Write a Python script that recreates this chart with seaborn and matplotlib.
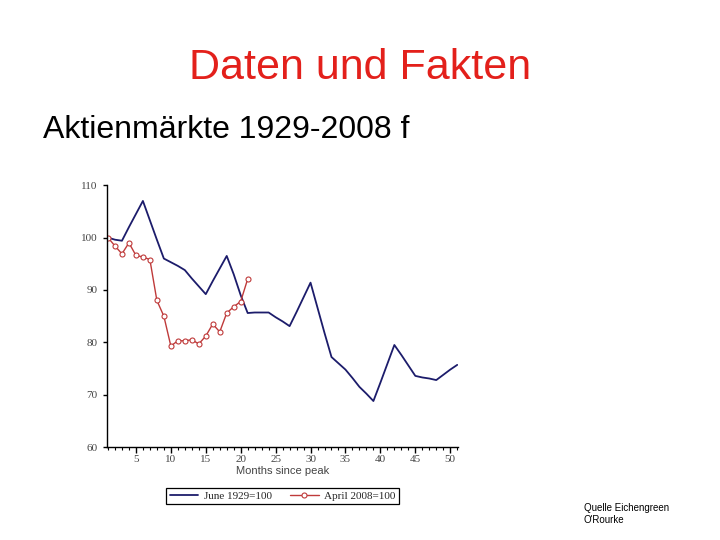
import matplotlib
matplotlib.use("Agg")
import matplotlib.pyplot as plt
import seaborn as sns
import pandas as pd
from matplotlib.ticker import MultipleLocator

sns.set_theme(style="white")
plt.rcParams['font.family'] = ['Liberation Sans', 'DejaVu Sans']

# ---- data ----
months_1929 = list(range(1, 52))
values_1929 = [100, 99.6, 99.4, 102, 104.5, 107, 103.3, 99.6, 96, 95.3,
               94.6, 93.8, 92.2, 90.7, 89.2, 91.7, 94.1, 96.5, 93, 89,
               85.6, 85.7, 85.7, 85.7, 84.8, 84, 83.1, 85.8, 88.6, 91.4,
               86.6, 81.8, 77.2, 76, 74.8, 73.2, 71.5, 70.2, 68.8, 72.3,
               75.9, 79.5, 77.6, 75.6, 73.6, 73.3, 73.1, 72.8, 73.8, 74.8,
               75.7]
months_2008 = list(range(1, 22))
values_2008 = [100, 98.4, 96.9, 99, 96.6, 96.3, 95.8, 88, 85, 79.3,
               80.3, 80.3, 80.5, 79.7, 81.2, 83.5, 82, 85.6, 86.8, 87.8,
               92.1]
label_1929 = "June 1929=100"
label_2008 = "April 2008=100"
x_ticks = [5, 10, 15, 20, 25, 30, 35, 40, 45, 50]
y_ticks = [60, 70, 80, 90, 100, 110]

df1 = pd.DataFrame({"month": months_1929, "value": values_1929})
df2 = pd.DataFrame({"month": months_2008, "value": values_2008})

fig = plt.figure(figsize=(7.2, 5.4), dpi=100)
fig.patch.set_facecolor("white")
ax = fig.add_axes([0.149, 0.172, 0.487, 0.485])

blue = "#1c1c6b"
red = "#bf3a3a"
sns.lineplot(data=df1, x="month", y="value", ax=ax, color=blue, lw=1.3,
             label=label_1929)
sns.lineplot(data=df2, x="month", y="value", ax=ax, color=red, lw=1.0,
             marker="o", markersize=3.6, markerfacecolor="white",
             markeredgecolor=red, markeredgewidth=0.8, label=label_2008)

ax.set_xlim(0.9, 51.1)
ax.set_ylim(60, 110)
ax.set_xticks(x_ticks)
ax.set_yticks(y_ticks)
ax.xaxis.set_minor_locator(MultipleLocator(1))
ax.tick_params(axis="x", which="major", direction="out", length=4, width=1,
               color="black", labelsize=8, labelcolor="#444444", pad=2,
               bottom=True)
ax.tick_params(axis="x", which="minor", direction="out", length=2.5,
               width=0.8, color="black", bottom=True)
ax.tick_params(axis="y", which="major", direction="out", length=3, width=1,
               color="black", labelsize=8, labelcolor="#444444", pad=4,
               left=True)
for lbl in ax.get_xticklabels() + ax.get_yticklabels():
    lbl.set_family(["Liberation Serif", "DejaVu Serif"])
for s in ["top", "right"]:
    ax.spines[s].set_visible(False)
for s in ["left", "bottom"]:
    ax.spines[s].set_color("black")
    ax.spines[s].set_linewidth(1.0)
ax.set_xlabel("Months since peak", fontsize=8, color="#444444", labelpad=1)
ax.set_ylabel("")
ax.grid(False)

ax.legend(loc="upper center", bbox_to_anchor=(0.5, -0.135), ncol=2,
          frameon=True, fancybox=False, edgecolor="black", framealpha=1,
          prop={"family": "Liberation Serif", "size": 8},
          handlelength=2.6, columnspacing=1.6, borderpad=0.3,
          handletextpad=0.5)
ax.get_legend().get_frame().set_linewidth(0.9)

fig.text(0.5, 0.874, "Daten und Fakten", ha="center", va="center",
         fontsize=31, color="#e3201b")
fig.text(0.06, 0.76, "Aktienmärkte 1929-2008 f", ha="left", va="center",
         fontsize=23, color="black")
fig.text(0.811, 0.048, "Quelle Eichengreen\nO'Rourke", ha="left", va="center",
         fontsize=7, color="black", linespacing=1.3)

fig.savefig("out.png", dpi=100, facecolor="white")
